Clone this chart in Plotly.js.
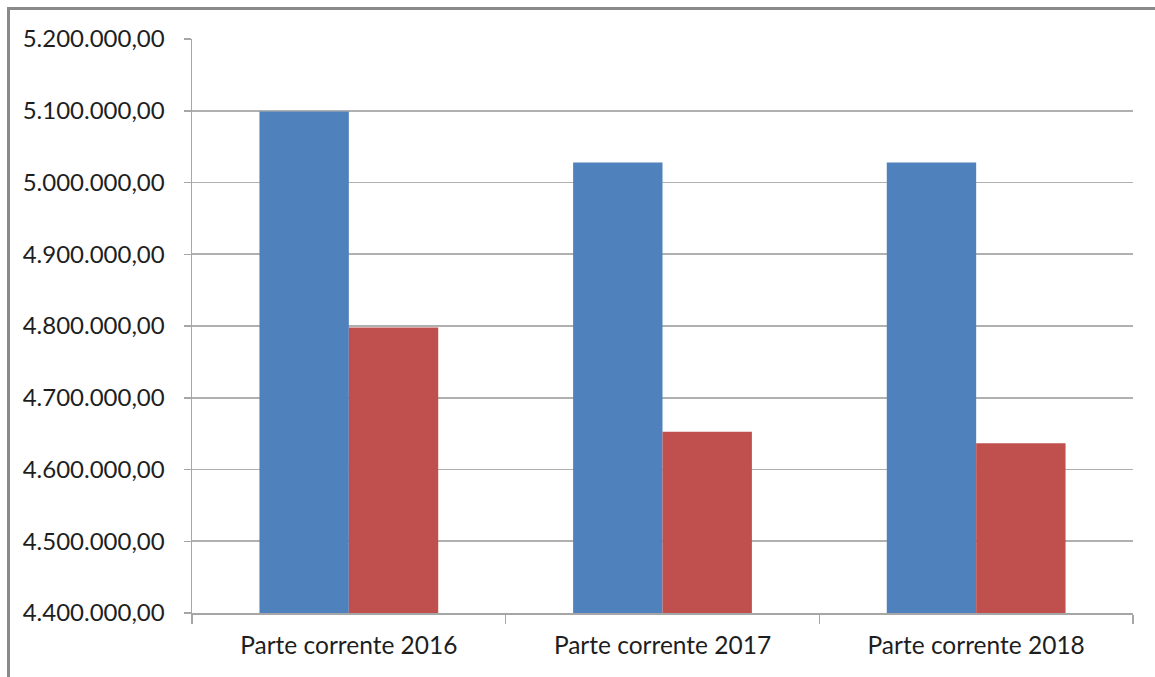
<!DOCTYPE html>
<html>
<head>
<meta charset="utf-8">
<script src="https://cdn.plot.ly/plotly-3.0.1.min.js"></script>
<style>
  html, body { margin: 0; padding: 0; background: #fff; }
  #wrap { position: relative; width: 1155px; height: 677px; overflow: hidden; }
  #chart { position: absolute; left: 0; top: 0; width: 1155px; height: 677px; }
  #frame { position: absolute; left: 7px; top: 7px; width: 1200px; height: 700px;
           border-left: 3px solid #8a8a8a; border-top: 3px solid #8a8a8a; pointer-events: none; }
</style>
</head>
<body>
<div id="wrap">
  <div id="chart"></div>
  <div id="frame"></div>
</div>
<script>
const categories = ["Parte corrente 2016", "Parte corrente 2017", "Parte corrente 2018"];
const seriesBlue = [5099000, 5028000, 5028000];
const seriesRed = [4798000, 4652500, 4636500];
const yTickValues = [4400000, 4500000, 4600000, 4700000, 4800000, 4900000, 5000000, 5100000, 5200000];

const FONT = "Lato, 'Open Sans', sans-serif";

const traces = [
  { type: "bar", name: "Serie 1", x: categories, y: seriesBlue,
    marker: { color: "#4F81BD", line: { width: 0 } }, hoverinfo: "skip" },
  { type: "bar", name: "Serie 2", x: categories, y: seriesRed,
    marker: { color: "#C0504D", line: { width: 0 } }, hoverinfo: "skip" }
];

const layout = {
  width: 1155, height: 677,
  margin: { l: 192, r: 22, t: 39, b: 64, pad: 0 },
  paper_bgcolor: "#ffffff", plot_bgcolor: "#ffffff",
  separators: ",.",
  showlegend: false,
  barmode: "group",
  bargap: 0.43,
  bargroupgap: 0,
  font: { family: FONT, size: 24, color: "#1e1e1e" },
  xaxis: {
    type: "category",
    showgrid: false,
    showline: true, linecolor: "#a6a6a6", linewidth: 1.5,
    ticks: "outside", tickson: "boundaries", ticklen: 9, tickcolor: "#a6a6a6", tickwidth: 1.5,
    tickfont: { family: FONT, size: 24.5, color: "#1e1e1e" },
    ticklabelstandoff: 10,
    zeroline: false, fixedrange: true
  },
  yaxis: {
    range: [4400000, 5200000],
    tickvals: yTickValues,
    tickformat: ",.2f",
    showgrid: true, gridcolor: "#b0b0b0", gridwidth: 1.7,
    showline: true, linecolor: "#a6a6a6", linewidth: 1.5,
    ticks: "outside", ticklen: 7, tickcolor: "#a6a6a6", tickwidth: 1.5,
    tickfont: { family: FONT, size: 24, color: "#1e1e1e" },
    ticklabelstandoff: 14,
    zeroline: false, fixedrange: true
  }
};

Plotly.newPlot("chart", traces, layout, { staticPlot: true, displayModeBar: false });
</script>
</body>
</html>
